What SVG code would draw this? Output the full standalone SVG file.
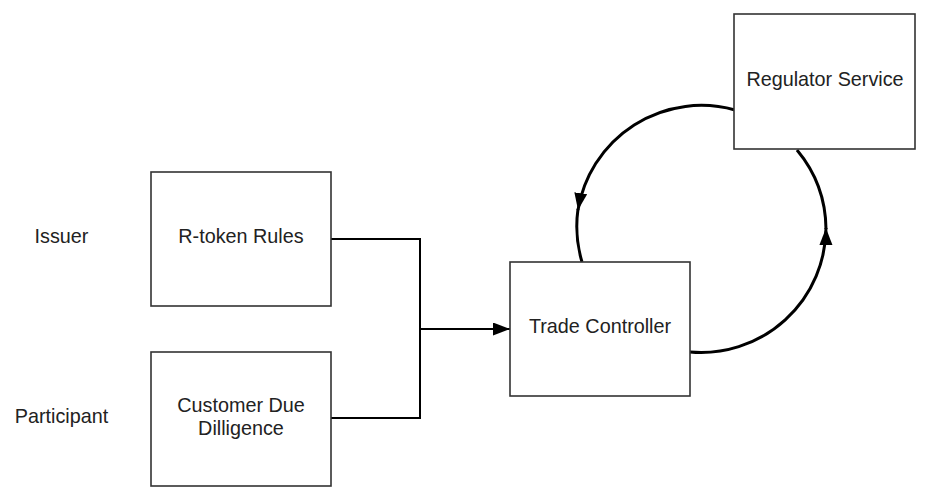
<svg xmlns="http://www.w3.org/2000/svg" width="930" height="502" viewBox="0 0 930 502">
<style>
.box{fill:#fff;stroke:#333;stroke-width:1.6}
.t{font-family:"Liberation Sans",Arial,sans-serif;font-size:19.8px;fill:#222;text-anchor:middle}
.el{fill:none;stroke:#000;stroke-width:2}
.arc{fill:none;stroke:#000;stroke-width:3}
</style>
<defs>
<marker id="ah" markerUnits="userSpaceOnUse" markerWidth="18" markerHeight="14" refX="17" refY="6.5" orient="auto">
<path d="M0,0 L17,6.5 L0,13 z" fill="#000"/>
</marker>
</defs>
<rect width="930" height="502" fill="#fff"/>
<g id="label-issuer"><text class="t" x="61.5" y="243">Issuer</text></g>
<g id="label-participant"><text class="t" x="61.5" y="423">Participant</text></g>
<g id="connectors">
<path class="el" d="M331,239 H420 V418 H331"/>
<path class="el" d="M420,329 H510" marker-end="url(#ah)"/>
<path class="arc" d="M735,110 A125,125 0 0 0 578,210" marker-end="url(#ah)"/>
<path class="arc" d="M578,209 A125,125 0 0 0 582,262"/>
<path class="arc" d="M690,352 A125,125 0 0 0 826,228" marker-end="url(#ah)"/>
<path class="arc" d="M826,229 A125,125 0 0 0 797,150"/>
</g>
<g id="node-rtoken">
<rect class="box" x="151" y="172" width="180" height="134"/>
<text class="t" x="241" y="243">R-token Rules</text>
</g>
<g id="node-cdd">
<rect class="box" x="151" y="352" width="180" height="134"/>
<text class="t" x="241" y="412">Customer Due</text>
<text class="t" x="241" y="435">Dilligence</text>
</g>
<g id="node-trade">
<rect class="box" x="510" y="262" width="180" height="134"/>
<text class="t" x="600" y="333">Trade Controller</text>
</g>
<g id="node-regulator">
<rect class="box" x="734" y="14" width="181" height="135"/>
<text class="t" x="825" y="86">Regulator Service</text>
</g>
</svg>
